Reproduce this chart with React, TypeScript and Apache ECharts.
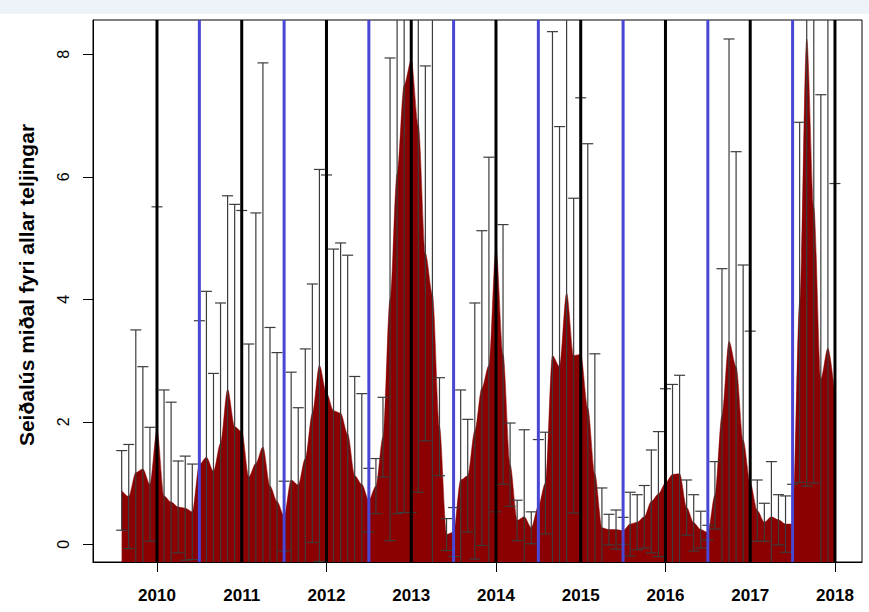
import React, { useEffect, useRef } from "react";
import * as echarts from "echarts";

// Sampling months (monthly counts)
const months: string[] = [
  "2009-08", "2009-09", "2009-10", "2009-11", "2009-12",
  "2010-01", "2010-02", "2010-03", "2010-04", "2010-05", "2010-06", "2010-07", "2010-08", "2010-09", "2010-10", "2010-11", "2010-12",
  "2011-01", "2011-02", "2011-03", "2011-04", "2011-05", "2011-06", "2011-07", "2011-08", "2011-09", "2011-10", "2011-11", "2011-12",
  "2012-01", "2012-02", "2012-03", "2012-04", "2012-05", "2012-06", "2012-07", "2012-08", "2012-09", "2012-10", "2012-11", "2012-12",
  "2013-01", "2013-02", "2013-03", "2013-04", "2013-05", "2013-06", "2013-07", "2013-08", "2013-09", "2013-10", "2013-11", "2013-12",
  "2014-01", "2014-02", "2014-03", "2014-04", "2014-05", "2014-06", "2014-07", "2014-08", "2014-09", "2014-10", "2014-11", "2014-12",
  "2015-01", "2015-02", "2015-03", "2015-04", "2015-05", "2015-06", "2015-07", "2015-08", "2015-09", "2015-10", "2015-11", "2015-12",
  "2016-01", "2016-02", "2016-03", "2016-04", "2016-05", "2016-06", "2016-07", "2016-08", "2016-09", "2016-10", "2016-11", "2016-12",
  "2017-01", "2017-02", "2017-03", "2017-04", "2017-05", "2017-06", "2017-07", "2017-08", "2017-09", "2017-10", "2017-11", "2017-12",
  "2018-01",
];

// Mean lice per count
const means: number[] = [
  0.88, 0.78, 1.17, 1.23, 0.98,
  1.86, 0.79, 0.69, 0.61, 0.59, 0.53, 1.30, 1.42, 1.19, 1.65, 2.53, 1.92,
  1.84, 1.10, 1.32, 1.59, 0.95, 0.70, 0.46, 1.05, 0.97, 1.40, 2.14, 2.92,
  2.47, 2.18, 2.14, 1.80, 1.12, 0.98, 0.72, 0.95, 1.75, 4.00, 6.05, 7.50,
  7.90, 6.85, 4.75, 4.08, 1.92, 0.16, 0.20, 1.05, 1.12, 1.85, 2.55, 2.92,
  4.83, 3.10, 1.30, 0.39, 0.45, 0.27, 0.62, 1.00, 3.08, 2.90, 4.10, 3.08,
  3.10, 2.22, 1.15, 0.27, 0.24, 0.24, 0.22, 0.33, 0.36, 0.45, 0.70, 0.82,
  1.00, 1.14, 1.15, 0.60, 0.35, 0.24, 0.19, 0.80, 2.10, 3.31, 2.90, 1.70,
  1.00, 0.55, 0.36, 0.45, 0.40, 0.33, 0.33, 3.95, 8.25, 5.50, 2.70, 3.20,
  2.42,
];

// Standard deviations (error bar half-lengths)
const sds: number[] = [
  0.65, 0.85, 2.33, 1.67, 0.93,
  3.65, 1.73, 1.63, 0.75, 0.85, 0.78, 2.35, 2.71, 1.60, 2.29, 3.16, 3.63,
  3.61, 2.17, 4.09, 6.27, 2.59, 2.43, 0.57, 1.76, 1.26, 1.79, 2.11, 3.20,
  3.56, 2.64, 2.78, 2.92, 1.62, 1.48, 0.52, 0.45, 0.65, 3.94, 5.55, 6.98,
  7.38, 6.00, 3.06, 4.70, 0.80, 0.26, 0.40, 1.47, 0.92, 2.09, 2.57, 3.40,
  4.30, 2.12, 0.68, 0.33, 1.42, 0.26, 1.09, 0.83, 5.29, 3.92, 4.60, 2.57,
  4.19, 4.32, 1.96, 0.65, 0.25, 0.32, 0.22, 0.52, 0.45, 0.51, 0.84, 1.02,
  1.54, 1.47, 1.61, 0.45, 0.46, 0.30, 0.12, 0.55, 2.40, 4.94, 3.51, 2.86,
  2.48, 0.50, 0.31, 0.90, 0.41, 0.46, 0.65, 2.94, 7.30, 4.50, 4.64, 5.80,
  3.47,
];

const yearLines: number[] = [2010, 2011, 2012, 2013, 2014, 2015, 2016, 2017, 2018];
const midYearLines: number[] = [2010.5, 2011.5, 2012.5, 2013.5, 2014.5, 2015.5, 2016.5, 2017.5];
const xLabelValues: number[] = [2010, 2011, 2012, 2013, 2014, 2015, 2016, 2017, 2018];
const xTickValues: number[] = [2010, 2012, 2014, 2016, 2018];
const yTickValues: number[] = [0, 2, 4, 6, 8];

const FONT = "'Liberation Sans', Arial, Helvetica, sans-serif";

function toYear(m: string): number {
  const [y, mo] = m.split("-").map(Number);
  return y + (mo - 1) / 12;
}

const App: React.FC = () => {
  const ref = useRef<HTMLDivElement>(null);

  useEffect(() => {
    if (!ref.current) return;
    const chart = echarts.init(ref.current, null, { renderer: "svg" });
    const xs = months.map(toYear);
    const areaData = xs.map((x, i) => [x, means[i]]);
    const errData = xs.map((x, i) => [x, means[i], sds[i]]);
    const vData = [
      ...yearLines.map((v) => [v, 0, 0]),
      ...midYearLines.map((v) => [v, 0, 1]),
    ];

    const option: any = {
      animation: false,
      backgroundColor: "#ffffff",
      graphic: [
        {
          type: "rect",
          left: 0,
          top: 0,
          z: -10,
          shape: { width: 869, height: 14 },
          style: { fill: "#eef3fa" },
        },
      ],
      grid: {
        left: 93,
        right: 7,
        top: 20,
        bottom: 50,
        show: true,
        borderColor: "#000",
        borderWidth: 1,
        backgroundColor: "transparent",
      },
      xAxis: {
        type: "value",
        min: 2009.245,
        max: 2018.319,
        splitLine: { show: false },
        axisLine: { show: true, onZero: false, lineStyle: { color: "#000", width: 1 } },
        axisTick: {
          show: true,
          customValues: xTickValues,
          length: 10,
          lineStyle: { color: "#000", width: 1 },
        },
        axisLabel: {
          customValues: xLabelValues,
          formatter: (v: number) => String(Math.round(v)),
          color: "#000",
          fontFamily: FONT,
          fontWeight: "bold",
          fontSize: 17,
          margin: 25,
        },
      },
      yAxis: {
        type: "value",
        min: -0.289,
        max: 8.56,
        splitLine: { show: false },
        axisLine: { show: true, onZero: false, lineStyle: { color: "#000", width: 1 } },
        axisTick: {
          show: true,
          customValues: yTickValues,
          length: 10,
          lineStyle: { color: "#000", width: 1 },
        },
        axisLabel: {
          customValues: yTickValues,
          rotate: 90,
          color: "#000",
          fontFamily: FONT,
          fontSize: 16,
          margin: 22,
        },
        name: "Seiðalús miðal fyri allar teljingar",
        nameLocation: "middle",
        nameRotate: 90,
        nameGap: 56,
        nameTextStyle: {
          color: "#000",
          fontFamily: FONT,
          fontWeight: "bold",
          fontSize: 21,
          padding: [0, 0, 0, 12],
        },
      },
      series: [
        {
          type: "line",
          data: areaData,
          symbol: "none",
          smooth: 0.3,
          smoothMonotone: "x",
          z: 2,
          lineStyle: { width: 0.5, color: "#8b0000" },
          areaStyle: { color: "#8b0000", opacity: 1, origin: "start" },
        },
        {
          type: "custom",
          data: errData,
          z: 3,
          encode: { x: 0, y: 1 },
          renderItem: (params: any, api: any) => {
            const x = api.value(0);
            const m = api.value(1);
            const s = api.value(2);
            const cs = params.coordSys;
            const top = cs.y;
            const bottom = cs.y + cs.height;
            const pU = api.coord([x, m + s]);
            const pL = api.coord([x, m - s]);
            const px = pU[0];
            let yU = pU[1];
            let yL = pL[1];
            const capU = yU >= top;
            const capL = yL <= bottom;
            yU = Math.max(yU, top);
            yL = Math.min(yL, bottom);
            const st = { stroke: "#3c3c3c", lineWidth: 1.2 };
            const children: any[] = [
              { type: "line", shape: { x1: px, y1: yU, x2: px, y2: yL }, style: st },
            ];
            if (capU)
              children.push({ type: "line", shape: { x1: px - 5.5, y1: yU, x2: px + 5.5, y2: yU }, style: st });
            if (capL)
              children.push({ type: "line", shape: { x1: px - 5.5, y1: yL, x2: px + 5.5, y2: yL }, style: st });
            return { type: "group", children };
          },
        },
        {
          type: "custom",
          data: vData,
          z: 4,
          encode: { x: 0 },
          renderItem: (params: any, api: any) => {
            const x = api.value(0);
            const kind = api.value(2);
            const cs = params.coordSys;
            const px = api.coord([x, 0])[0];
            return {
              type: "line",
              shape: { x1: px, y1: cs.y, x2: px, y2: cs.y + cs.height },
              style: { stroke: kind === 1 ? "#4747d4" : "#000000", lineWidth: 3 },
            };
          },
        },
      ],
    };

    chart.setOption(option);
    return () => chart.dispose();
  }, []);

  return (
    <div
      ref={ref}
      style={{ position: "absolute", left: 0, top: 0, width: 869, height: 612, background: "#fff" }}
    />
  );
};

export default App;
